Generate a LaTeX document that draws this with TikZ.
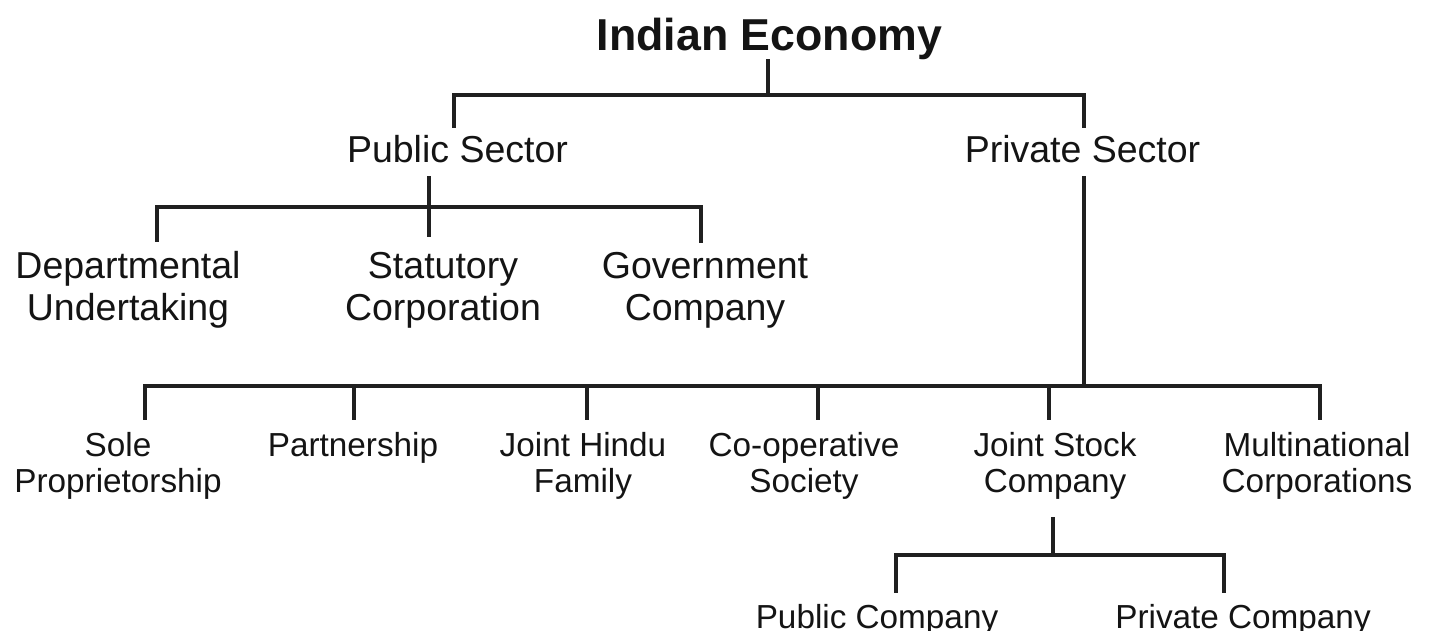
\documentclass[tikz,border=0pt]{standalone}
\usepackage{fontspec}
\setmainfont{Liberation Sans}
\usetikzlibrary{calc}
\definecolor{linec}{HTML}{202020}
\definecolor{txtc}{HTML}{141414}
\begin{document}
\begin{tikzpicture}[x=1pt,y=-1pt,
  conn/.style={draw=linec, line width=3.5pt, line join=miter},
  ttlnode/.style={font=\bfseries\fontsize{44.7}{50}\selectfont, inner sep=0pt, anchor=base, text=txtc},
  secnode/.style={font=\fontsize{37.5}{42}\selectfont, inner xsep=0pt, inner ysep=7pt, text height=27pt, text depth=7pt, anchor=base, text=txtc},
  pubnode/.style={font=\fontsize{37.5}{42}\selectfont, align=center, inner xsep=0pt, inner ysep=9pt, anchor=base, text=txtc},
  privnode/.style={font=\fontsize{33.3}{36}\selectfont, align=center, inner xsep=0pt, inner ysep=12pt, anchor=base, text=txtc},
  subnode/.style={font=\fontsize{33.3}{36}\selectfont, inner xsep=0pt, inner ysep=11pt, text height=24pt, anchor=base, text=txtc}
]
\fill[white] (0,0) rectangle (1429,630);
\useasboundingbox (0,0) rectangle (1429,630);

% nodes (multi-line nodes are placed at the baseline of their last line)
\node[ttlnode] (ttl) at (769.5,50) {Indian Economy};
\node[secnode] (pub) at (457.5,162) {Public Sector};
\node[secnode] (priv) at (1082.5,162) {Private Sector};
\node[pubnode] (dep) at (128,320) {Departmental\\Undertaking};
\node[pubnode] (stat) at (443,320) {Statutory\\Corporation};
\node[pubnode] (gov) at (705,320) {Government\\Company};
\node[privnode] (sole) at (118,492) {Sole\\Proprietorship};
\node[privnode] (part) at (353,456) {Partnership};
\node[privnode] (jhf) at (583,492) {Joint Hindu\\Family};
\node[privnode] (coop) at (804,492) {Co-operative\\Society};
\node[privnode] (jsc) at (1055,492) {Joint Stock\\Company};
\node[privnode] (mnc) at (1317,492) {Multinational\\Corporations};
\node[subnode] (pubc) at (877,628) {Public Company};
\node[subnode] (privc) at (1243,628) {Private Company};

% junction coordinates
\coordinate (b0) at (768,95);
\coordinate (d1) at (454,95);
\coordinate (d2) at (1084,95);
\coordinate (e0) at (429,207);
\coordinate (e1) at (157,207);
\coordinate (e2) at (701,207);
\coordinate (f0) at (1084,386);
\coordinate (f1) at (145,386);
\coordinate (f2) at (354,386);
\coordinate (f3) at (587,386);
\coordinate (f4) at (818,386);
\coordinate (f5) at (1049,386);
\coordinate (f6) at (1320,386);
\coordinate (g0) at (1053,555);
\coordinate (g1) at (896,555);
\coordinate (g2) at (1224,555);

% level 1
\draw[conn] (ttl.south -| b0) -- (b0);
\draw[conn] (pub.north -| d1) -- (d1) -- (d2) -- (priv.north -| d2);
% public sector
\draw[conn] (pub.south -| e0) -- ($(stat.north -| e0)+(0,-6)$);
\draw[conn] (dep.north -| e1) -- (e1) -- (e2) -- (gov.north -| e2);
% private sector
\draw[conn] (priv.south -| f0) -- (f0);
\draw[conn] (sole.north -| f1) -- (f1) -- (f6) -- (mnc.north -| f6);
\draw[conn] (f2) -- (part.north -| f2);
\draw[conn] (f3) -- (jhf.north -| f3);
\draw[conn] (f4) -- (coop.north -| f4);
\draw[conn] (f5) -- (jsc.north -| f5);
% joint stock company
\draw[conn] ($(jsc.south -| g0)+(0,6)$) -- (g0);
\draw[conn] (pubc.north -| g1) -- (g1) -- (g2) -- (privc.north -| g2);
\end{tikzpicture}
\end{document}
